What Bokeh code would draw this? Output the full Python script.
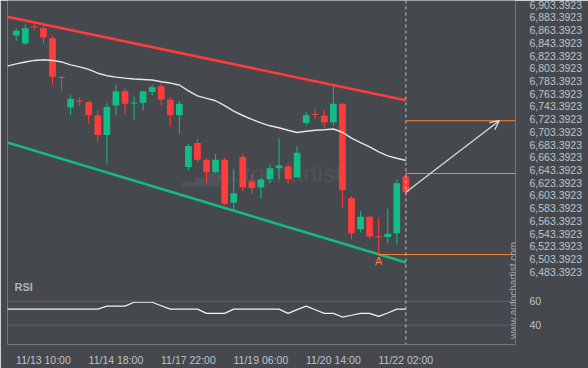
from bokeh.plotting import figure
from bokeh.models import (Range1d, FixedTicker, NumeralTickFormatter, Span, Label,
                          Arrow, OpenHead, ColumnDataSource)
from bokeh.embed import file_html
from bokeh.resources import INLINE

# ---------------- data ----------------
opens = [6850.5, 6854.9, 6842.5, 6869.1, 6866.3, 6850.8, 6789.8, 6741.6, 6752.7, 6750.4,
         6729.2, 6698.7, 6745.1, 6767.4, 6748.1, 6749.3, 6766.3, 6775.1, 6753.9, 6729.7,
         6648.4, 6685.9, 6659.6, 6640.0, 6659.6, 6592.1, 6663.8, 6625.6, 6616.4, 6629.2,
         6646.2, 6648.8, 6631.8, 6717.3, 6731.5, 6728.7, 6718.4, 6747.8, 6599.4, 6550.4,
         6570.0, 6539.4, 6538.0, 6544.2, 6633.4]
highs = [6852.1, 6866.3, 6872.5, 6872.5, 6869.8, 6854.9, 6791.5, 6761.6, 6758.1, 6751.9,
         6737.4, 6748.8, 6777.1, 6772.5, 6759.0, 6768.3, 6777.6, 6781.3, 6758.1, 6751.9,
         6684.4, 6692.6, 6662.7, 6668.9, 6662.7, 6644.2, 6669.4, 6636.9, 6631.8, 6652.4,
         6693.6, 6653.5, 6680.8, 6734.9, 6740.0, 6737.4, 6775.1, 6748.5, 6602.5, 6578.8,
         6571.1, 6568.9, 6582.8, 6629.2, 6639.5]
lows = [6849.8, 6846.6, 6840.5, 6863.7, 6841.6, 6777.6, 6767.4, 6729.7, 6744.2, 6715.7,
        6687.0, 6652.4, 6729.7, 6732.3, 6721.9, 6737.4, 6760.6, 6745.1, 6711.7, 6699.8,
        6643.1, 6656.1, 6621.5, 6639.1, 6588.1, 6580.4, 6610.2, 6606.0, 6598.3, 6622.6,
        6629.2, 6622.6, 6631.0, 6713.3, 6723.5, 6709.1, 6713.3, 6584.4, 6534.9, 6545.3,
        6535.5, 6510.5, 6528.7, 6526.3, 6604.0]
closes = [6851.0, 6862.6, 6866.3, 6867.5, 6851.8, 6790.0, 6788.2, 6755.5, 6751.1, 6729.7,
          6698.7, 6742.6, 6767.4, 6747.8, 6749.6, 6766.8, 6773.6, 6754.4, 6729.7, 6747.8,
          6681.3, 6659.6, 6640.0, 6659.6, 6590.5, 6607.1, 6616.4, 6615.3, 6628.7, 6646.2,
          6650.4, 6629.2, 6670.5, 6729.7, 6730.0, 6718.4, 6747.8, 6612.2, 6544.2, 6570.0,
          6539.1, 6537.9, 6543.3, 6622.6, 6608.6]
ma = [6806.9, 6810.4, 6813.4, 6815.8, 6816.8, 6815.8, 6813.4, 6808.8, 6805.7, 6801.8,
      6795.7, 6791.8, 6789.5, 6787.9, 6786.7, 6785.9, 6785.1, 6782.2, 6780.2, 6777.1,
      6767.8, 6760.1, 6756.2, 6752.4, 6744.6, 6736.2, 6729.2, 6723.0, 6717.6, 6713.0,
      6709.9, 6706.0, 6702.5, 6704.5, 6706.0, 6706.8, 6708.0, 6702.9, 6693.6, 6686.7,
      6679.7, 6672.0, 6665.8, 6661.9, 6658.5]
rsi = [53.4, 53.4, 53.4, 53.4, 53.4, 53.4, 53.4, 53.4, 53.4, 53.4,
       53.4, 55.9, 55.9, 55.9, 59.2, 59.2, 59.2, 56.3, 53.4, 53.4,
       53.4, 53.4, 49.9, 49.9, 49.9, 53.4, 53.4, 53.4, 53.4, 53.4,
       53.4, 49.9, 53.0, 55.9, 52.9, 49.9, 49.9, 46.8, 48.3, 49.9,
       49.9, 47.4, 50.2, 53.4, 53.4]

tick_idx = [4, 12, 20, 28, 36, 44]
tick_labels = ["11/13 10:00", "11/14 18:00", "11/17 22:00", "11/19 06:00",
               "11/20 14:00", "11/22 02:00"]
price_ticks = [round(6483.3923 + 20 * k, 4) for k in range(22)]
rsi_ticks = [60, 40]

channel_x = [0, 44]
resistance_y = [6884.4, 6753.2]
support_y = [6686.7, 6498.1]

target_level = 6721.0
current_level = 6638.0
support_level = 6510.5
level_start = [44, 44, 41]
pattern_point = 41
arrow_x_end = 54.3

# ---------------- style ----------------
BG = "#45494e"
UP = "#13bd85"
DOWN = "#ff3c3c"
TXT = "#bfc3c9"
ORANGE = "#ff7f2a"
FONT = "Liberation Sans"

PRICE_LO, PRICE_HI = 6369.08, 6910.04
RSI_LO, RSI_HI = 23.8, 311.9

x = list(range(len(opens)))
colors = [UP if c >= o else DOWN for o, c in zip(opens, closes)]
src = ColumnDataSource(dict(
    x=x, high=highs, low=lows, color=colors,
    top=[max(o, c) for o, c in zip(opens, closes)],
    bottom=[min(o, c) for o, c in zip(opens, closes)],
    ma=ma, rsi=rsi))

p = figure(width=588, height=368, output_backend="svg", toolbar_location=None,
           x_range=Range1d(0.033, 56.1), y_range=Range1d(PRICE_LO, PRICE_HI),
           y_axis_location="right", min_border_left=7, min_border_top=0,
           min_border_right=73, min_border_bottom=18,
           background_fill_color=BG, border_fill_color=BG, outline_line_color=None)
p.extra_y_ranges = {"rsi": Range1d(RSI_LO, RSI_HI)}
p.xgrid.grid_line_color = None
p.ygrid.grid_line_color = None


def rsi_to_price(v):
    # same pixel row on the shared frame
    return PRICE_LO + (v - RSI_LO) / (RSI_HI - RSI_LO) * (PRICE_HI - PRICE_LO)


# axes
for ax in (p.xaxis[0], p.yaxis[0]):
    ax.axis_line_color = None
    ax.major_tick_line_color = None
    ax.minor_tick_line_color = None
    ax.major_label_text_color = TXT
    ax.major_label_text_font = FONT
    ax.major_label_text_font_size = "10.5px"
p.xaxis.ticker = FixedTicker(ticks=tick_idx)
p.xaxis.major_label_overrides = {i: s for i, s in zip(tick_idx, tick_labels)}
p.xaxis.major_label_standoff = 3
rsi_tick_pos = [rsi_to_price(t) for t in rsi_ticks]
p.yaxis.ticker = FixedTicker(ticks=price_ticks + rsi_tick_pos)
p.yaxis.formatter = NumeralTickFormatter(format="0,0.0000")
p.yaxis.major_label_overrides = {pos: str(t) for pos, t in zip(rsi_tick_pos, rsi_ticks)}
p.yaxis.major_label_standoff = 8

# watermark
p.add_layout(Label(x=(217 - 6.7) / 9.06, y=6616.4, text="autochartist", text_font=FONT,
                   text_font_size="24px", text_color="white", text_alpha=0.07,
                   level="underlay"))
p.add_layout(Label(x=(182 - 6.7) / 9.06, y=6616.4, text="▂▄▆", text_font="DejaVu Sans",
                   text_font_size="16px", text_color="white", text_alpha=0.07,
                   level="underlay"))

# RSI grid lines
for t in rsi_ticks:
    p.add_layout(Span(location=t, dimension="width", y_range_name="rsi",
                      line_color="#5d6166", line_width=1))

# channel lines
p.line(channel_x, resistance_y, line_color="#ff3b3b", line_width=2.6)
p.line(channel_x, support_y, line_color="#15b887", line_width=2.6)

# candles
p.segment(x0="x", y0="high", x1="x", y1="low", line_color="color", line_width=1, source=src)
p.vbar(x="x", width=0.74, top="top", bottom="bottom", fill_color="color",
       line_color=None, source=src)

# moving average
p.line("x", "ma", line_color="#e6e6e6", line_width=1.4, source=src)

# levels
p.ray(x=level_start, y=[target_level, current_level, support_level], length=0, angle=0,
      line_color=ORANGE, line_width=1)

# last bar marker
p.add_layout(Span(location=x[-1], dimension="height", line_color="#c9c9c9",
                  line_dash="3 3", line_width=1))

# forecast arrow
p.add_layout(Arrow(end=OpenHead(size=9, line_color="#dedede", line_width=1.2),
                   x_start=x[-1], y_start=closes[-1], x_end=arrow_x_end, y_end=target_level,
                   line_color="#dedede", line_width=1.2))

# pattern point label
p.add_layout(Label(x=pattern_point, y=support_level - 10, text="A", text_font=FONT,
                   text_font_size="11px", text_color=ORANGE, text_align="center",
                   text_baseline="middle"))

# RSI
p.line("x", "rsi", y_range_name="rsi", line_color="#f2f2f2", line_width=1.2, source=src)
p.add_layout(Label(x=0.8, y=72.3, y_range_name="rsi", text="RSI", text_font=FONT,
                   text_font_size="11px", text_font_style="bold", text_color="#aeb2b9",
                   text_baseline="middle"))

# vertical site text
p.add_layout(Label(x=55.9, y=6454.1, text="www.autochartist.com", angle=1.5708,
                   text_font=FONT, text_font_size="10px", text_color="#a3a7ad",
                   text_align="center", text_baseline="middle"))

open("out.html", "w").write(file_html(p, INLINE))
